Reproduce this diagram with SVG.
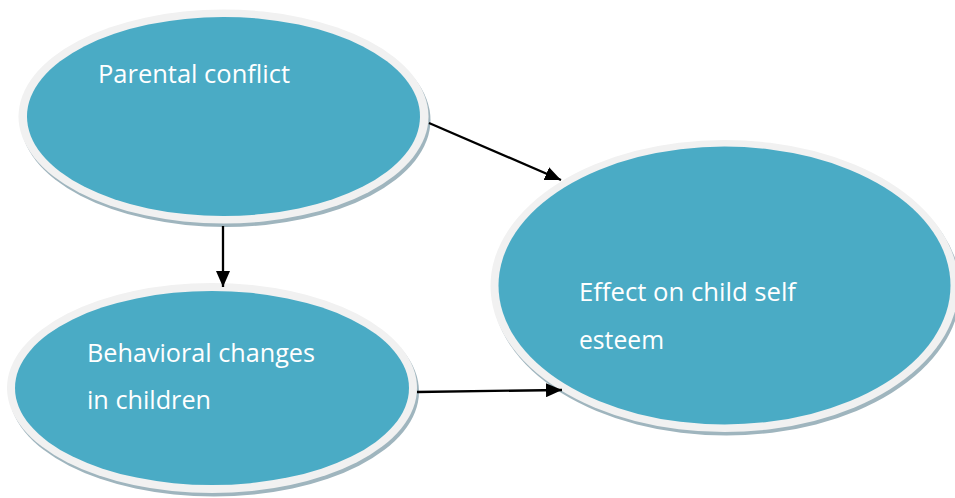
<svg xmlns="http://www.w3.org/2000/svg" width="955" height="498" viewBox="0 0 955 498">
<defs>
<style>
.shadow{fill:#9fb5be}
.rim{fill:#f1f1f1}
.body{fill:#4aabc5}
.lbl{font-family:"Open Sans","Liberation Sans",sans-serif;font-size:25px;fill:#ffffff}
.conn{stroke:#000000;stroke-width:2.3;fill:none}
</style>
<marker id="arr" viewBox="0 0 16 14" refX="16" refY="7" markerWidth="16" markerHeight="14" markerUnits="userSpaceOnUse" orient="auto">
<path d="M0,0 L16,7 L0,14 Z" fill="#000000"/>
</marker>
</defs>
<rect width="955" height="498" fill="#ffffff"/>
<g id="node-parental">
<ellipse class="shadow" cx="225.5" cy="120" rx="205" ry="107"/>
<ellipse class="rim" cx="223.5" cy="116.5" rx="205" ry="107"/>
<ellipse class="body" cx="223.5" cy="116.5" rx="196.5" ry="99.5"/>
<text class="lbl" x="98" y="83" textLength="192" lengthAdjust="spacingAndGlyphs">Parental conflict</text>
</g>
<g id="node-behavioral">
<ellipse class="shadow" cx="214" cy="391.5" rx="205" ry="105"/>
<ellipse class="rim" cx="212" cy="388" rx="205" ry="105"/>
<ellipse class="body" cx="212" cy="388" rx="197" ry="97"/>
<text class="lbl" x="87" y="362" textLength="228" lengthAdjust="spacingAndGlyphs">Behavioral changes</text>
<text class="lbl" x="87" y="409" textLength="124" lengthAdjust="spacingAndGlyphs">in children</text>
</g>
<g id="node-effect">
<ellipse class="shadow" cx="726.5" cy="289.5" rx="234" ry="146"/>
<ellipse class="rim" cx="724.5" cy="286" rx="234" ry="146"/>
<ellipse class="body" cx="724.5" cy="285.5" rx="226" ry="139"/>
<text class="lbl" x="579" y="301" textLength="217" lengthAdjust="spacingAndGlyphs">Effect on child self</text>
<text class="lbl" x="579" y="349" textLength="85" lengthAdjust="spacingAndGlyphs">esteem</text>
</g>
<g id="connectors">
<line class="conn" x1="429" y1="123" x2="561" y2="180" marker-end="url(#arr)"/>
<line class="conn" x1="223" y1="226" x2="223" y2="287" marker-end="url(#arr)"/>
<line class="conn" x1="417" y1="392" x2="562" y2="390" marker-end="url(#arr)"/>
</g>
</svg>
